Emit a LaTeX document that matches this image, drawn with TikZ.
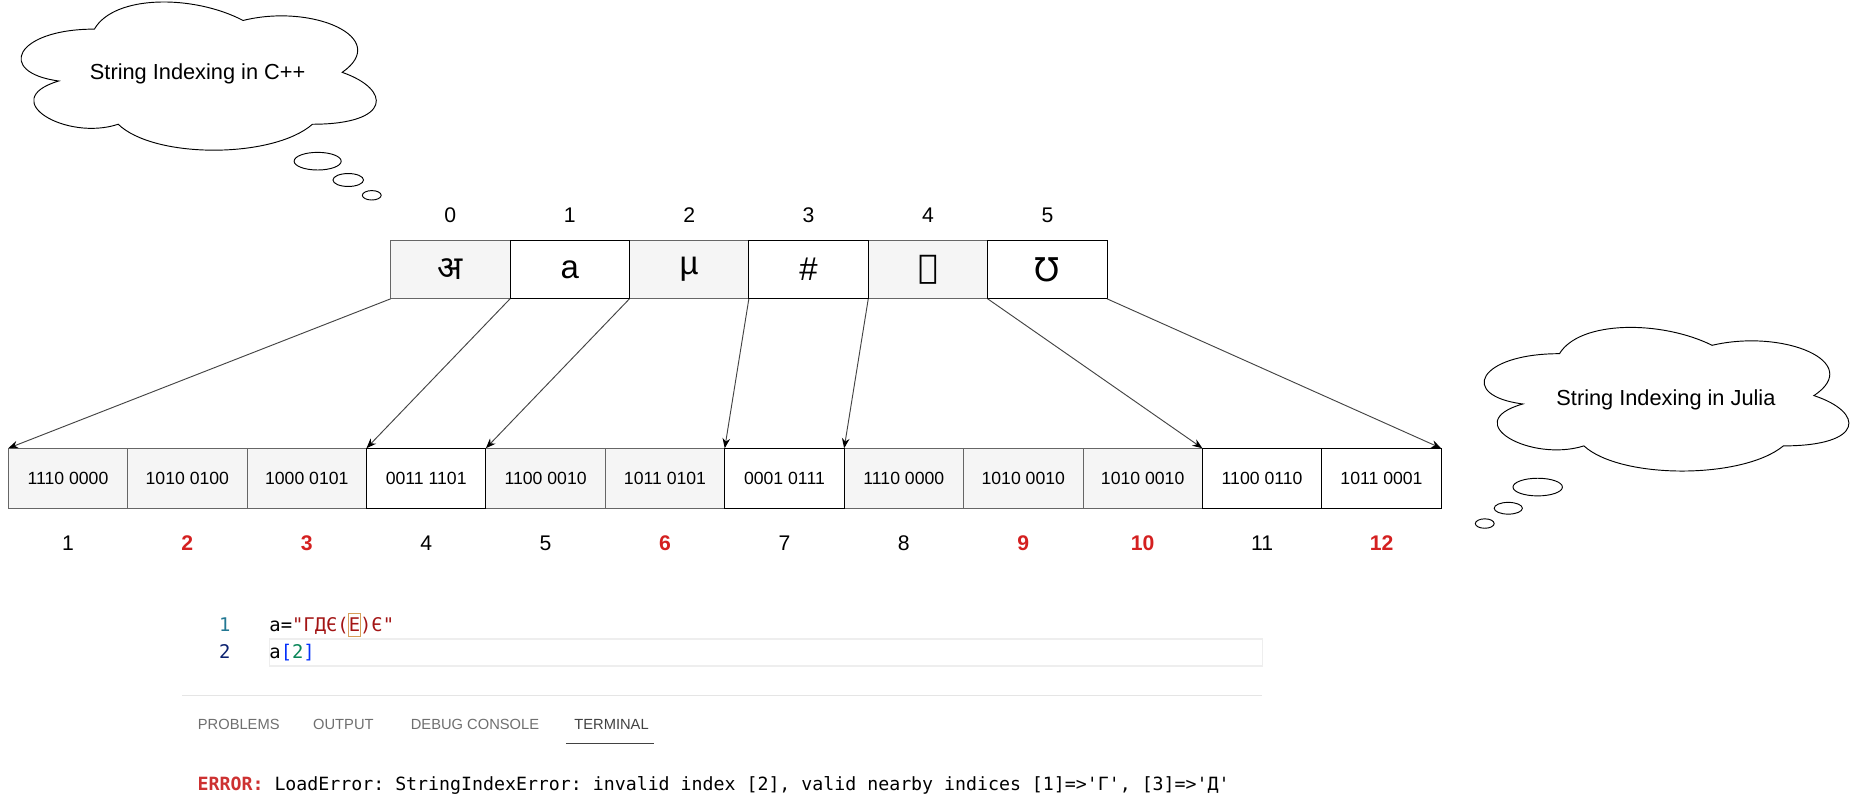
\documentclass[tikz,border=0pt]{standalone}
\usepackage{fontspec}
\setmainfont{Liberation Sans}
\setmonofont{DejaVu Sans Mono}
\newfontfamily\devafont[Script=Devanagari]{Noto Sans}
\newfontfamily\arabicfont[Script=Arabic]{DejaVu Sans}
\newfontfamily\dejavu{DejaVu Sans}
\TeXXeTstate=1
\usetikzlibrary{arrows.meta,positioning}

\definecolor{cellgray}{HTML}{F5F5F5}
\definecolor{cellline}{HTML}{666666}
\definecolor{contred}{HTML}{D42020}
\definecolor{arrowgray}{HTML}{444444}
\definecolor{strred}{HTML}{A31515}
\definecolor{brblue}{HTML}{0431FA}
\definecolor{numgreen}{HTML}{098658}
\definecolor{lnteal}{HTML}{237893}
\definecolor{lnnavy}{HTML}{0B216F}
\definecolor{cursorbox}{HTML}{D7A05A}
\definecolor{curline}{HTML}{EEEEEE}
\definecolor{sepgray}{HTML}{E5E5E5}
\definecolor{tabgray}{HTML}{6F6F6F}
\definecolor{tabdark}{HTML}{424242}
\definecolor{errred}{HTML}{CD3131}

% draw.io style cloud: x, y, width, height
\newcommand{\thoughtcloud}[4]{%
  \draw[cloudline] ({#1+0.25*#3},{#2+0.25*#4})
    .. controls ({#1+0.05*#3},{#2+0.25*#4}) and ({#1},{#2+0.5*#4}) .. ({#1+0.16*#3},{#2+0.55*#4})
    .. controls ({#1},{#2+0.66*#4}) and ({#1+0.18*#3},{#2+0.9*#4}) .. ({#1+0.31*#3},{#2+0.8*#4})
    .. controls ({#1+0.4*#3},{#2+#4}) and ({#1+0.7*#3},{#2+#4}) .. ({#1+0.8*#3},{#2+0.8*#4})
    .. controls ({#1+#3},{#2+0.8*#4}) and ({#1+#3},{#2+0.6*#4}) .. ({#1+0.875*#3},{#2+0.5*#4})
    .. controls ({#1+#3},{#2+0.3*#4}) and ({#1+0.8*#3},{#2+0.1*#4}) .. ({#1+0.625*#3},{#2+0.2*#4})
    .. controls ({#1+0.5*#3},{#2+0.05*#4}) and ({#1+0.3*#3},{#2+0.05*#4}) .. ({#1+0.25*#3},{#2+0.25*#4})
    -- cycle;}

\begin{document}
\begin{tikzpicture}[x=1pt,y=-1pt,
    cloudline/.style={draw=black, line width=0.8pt},
    cloudtext/.style={font=\fontsize{18.5}{22}\selectfont, inner sep=0pt},
    graycell/.style={draw=cellline, fill=cellgray, line width=0.8pt, inner sep=0pt, outer sep=0pt},
    whitecell/.style={graycell, draw=black, fill=white},
    charcell/.style={minimum width=101.5pt, minimum height=50pt, font=\fontsize{28}{32}\selectfont},
    bitcell/.style={minimum width=101.5pt, minimum height=51pt, font=\fontsize{15}{18}\selectfont},
    idxlabel/.style={font=\fontsize{18}{21}\selectfont, inner sep=0pt},
    contlabel/.style={idxlabel, font=\fontsize{18}{21}\selectfont\bfseries, text=contred},
    mapline/.style={draw=arrowgray, line width=0.8pt, -{Stealth[length=8.5pt,width=6.5pt,black]}},
    codetext/.style={font=\ttfamily\fontsize{16}{19}\selectfont, inner sep=0pt, outer sep=0pt},
    tablabel/.style={font=\fontsize{12.5}{15}\selectfont, text=tabgray, inner sep=0pt, anchor=base west},
  ]
    \useasboundingbox (0,0) rectangle (1575,687);

    % Clouds
    \thoughtcloud{-4}{-12}{337}{147}
    \node[cloudtext] (cppcloud) at (168,63) {String Indexing in C++};
    \draw[cloudline] (270,137) ellipse [x radius=20pt, y radius=7.5pt];
    \draw[cloudline] (296,153) ellipse [x radius=13pt, y radius=5.5pt];
    \draw[cloudline] (316,166) ellipse [x radius=8pt, y radius=4pt];

    \thoughtcloud{1239}{265}{346}{142.5}
    \node[cloudtext] (juliacloud) at (1416,340) {String Indexing in Julia};
    \draw[cloudline] (1307,414) ellipse [x radius=21pt, y radius=7.5pt];
    \draw[cloudline] (1282,432) ellipse [x radius=12pt, y radius=5pt];
    \draw[cloudline] (1262,445) ellipse [x radius=8pt, y radius=4pt];

    % Characters
    \node[graycell, charcell] (c0) at (382.75,229) {\devafont अ};
    \node[graycell, charcell] (c2) at (585.75,229) {µ};
    \node[graycell, charcell] (c4) at (788.75,229) {\arabicfont\beginR ࢢ\endR};
    \node[whitecell, charcell] (c1) at (484.25,229) {a};
    \node[whitecell, charcell] (c3) at (687.25,229) {\#};
    \node[whitecell, charcell] (c5) at (890.25,229) {\dejavu Ʊ};
    \foreach \i in {0,...,5}
        \node[idxlabel] (t\i) at ({382.75+101.5*\i},183) {\i};

    % Bytes
    \foreach \i/\bits in {1/1110 0000, 2/1010 0100, 3/1000 0101, 5/1100 0010,
                          6/1011 0101, 8/1110 0000, 9/1010 0010, 10/1010 0010}
        \node[graycell, bitcell] (b\i) at ({-43.75+101.5*\i},406.5) {\bits};
    \foreach \i/\bits in {4/0011 1101, 7/0001 0111, 11/1100 0110, 12/1011 0001}
        \node[whitecell, bitcell] (b\i) at ({-43.75+101.5*\i},406.5) {\bits};
    \foreach \i/\sty in {1/idxlabel, 2/contlabel, 3/contlabel, 4/idxlabel, 5/idxlabel, 6/contlabel,
                         7/idxlabel, 8/idxlabel, 9/contlabel, 10/contlabel, 11/idxlabel, 12/contlabel}
        \node[\sty] (n\i) at ({-43.75+101.5*\i},462) {\i};

    % Mapping
    \draw[mapline] (c0.south west) -- (b1.north west);
    \draw[mapline] (c1.south west) -- (b4.north west);
    \draw[mapline] (c2.south west) -- (b5.north west);
    \draw[mapline] (c3.south west) -- (b7.north west);
    \draw[mapline] (c4.south west) -- (b8.north west);
    \draw[mapline] (c5.south west) -- (b11.north west);
    \draw[mapline] (c5.south east) -- (b12.north east);

    % Editor
    \draw[curline, line width=1.5pt] (229,543) rectangle (1073,566);
    \node[codetext, text=lnteal, anchor=base] (ln1) at (191,537) {1};
    \node[codetext, text=lnnavy, anchor=base] (ln2) at (191,560) {2};
    \node[codetext, anchor=base west] (codea) at (229,537) {a={\color{strred}"ГДЄ(}};
    \node[codetext, text=strred, draw=cursorbox, line width=0.8pt, minimum height=20pt,
          anchor=base west] (codee) at (codea.base east) {Е};
    \node[codetext, text=strred, anchor=base west] (codec) at (codee.base east) {)Є"};
    \node[codetext, anchor=base west] (codeb) at (229,560)
        {a{\color{brblue}[}{\color{numgreen}2}{\color{brblue}]}};
    \draw[sepgray, line width=1pt] (155,591) -- (1073,591);

    % Panel tabs
    \node[tablabel] (tabprob) at (168,620) {PROBLEMS};
    \node[tablabel] (tabout) at (266,620) {OUTPUT};
    \node[tablabel] (tabdbg) at (349,620) {DEBUG CONSOLE};
    \node[tablabel, text=tabdark] (tabterm) at (488,620) {TERMINAL};
    \draw[tabdark, line width=1pt] (481,632) -- (556,632);

    % Terminal output
    \node[codetext, font=\ttfamily\fontsize{15.5}{18}\selectfont, anchor=base west] (errline) at (168,672)
        {{\bfseries\color{errred}ERROR:} LoadError: StringIndexError: invalid index [2], valid nearby indices [1]=>'Г', [3]=>'Д'};
\end{tikzpicture}
\end{document}
